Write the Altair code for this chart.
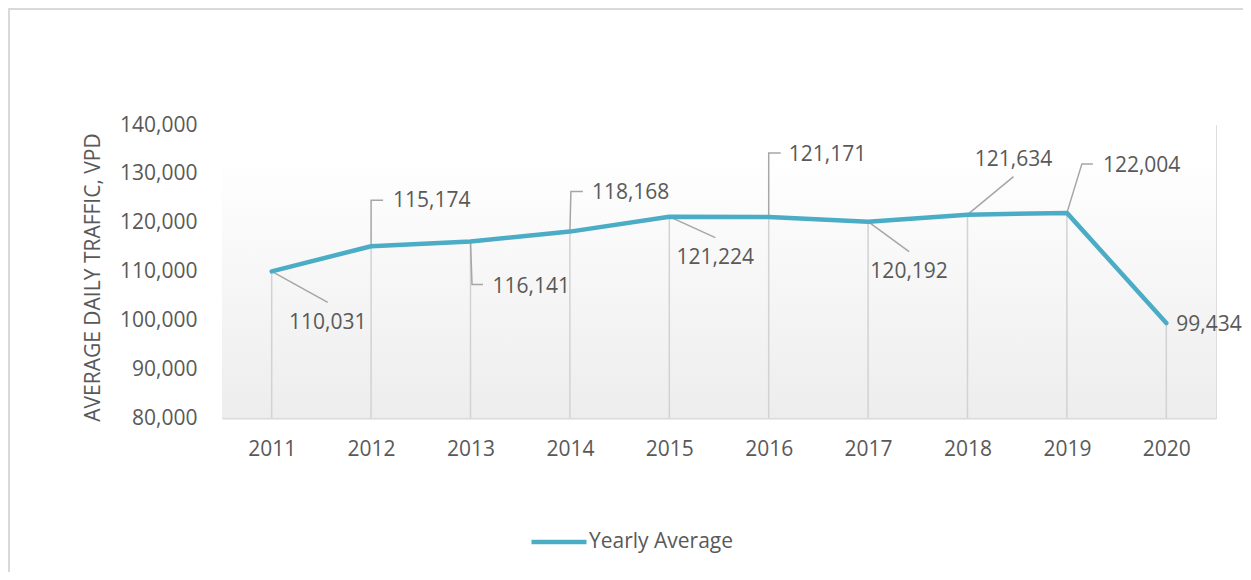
import altair as alt
import pandas as pd

# ---- data ----
years = [2011, 2012, 2013, 2014, 2015, 2016, 2017, 2018, 2019, 2020]
values = [110031, 115174, 116141, 118168, 121224, 121171, 120192, 121634, 122004, 99434]
series_name = "Yearly Average"

# ---- annotation layout (pixel offsets from each point) ----
label_dx = [56, 22, 22, 22, 46, 20, 41, 46, 36, 10]
label_dy = [52, -45, 45, -39, 41, -62, 50, -55, -47, 2]
label_align = ["center", "left", "left", "left", "center", "left", "center", "center", "left", "left"]
leader_paths = [
    [(0, 0), (56, 31)],
    [(0, 0), (0, -46), (12, -46)],
    [(0, 0), (1.5, 43), (12.5, 43)],
    [(0, 0), (1, -40), (13, -40)],
    [(0, 0), (46, 21)],
    [(0, 0), (0, -64), (12, -64)],
    [(0, 0), (41, 30)],
    [(0, 0), (46, -38)],
    [(0, 0), (15, -49), (26, -49)],
    [],
]

PLOT_W, PLOT_H = 994, 293
X_MIN, X_MAX = 2010.5, 2020.5
Y_MIN, Y_MAX = 80000, 140000
px_x = PLOT_W / (X_MAX - X_MIN)
px_y = PLOT_H / (Y_MAX - Y_MIN)

LINE_COLOR = "#4bacc6"
TEXT_COLOR = "#595959"
FONT = "Open Sans"
FS = 21

df = pd.DataFrame({"year": years, "value": values, "series": series_name})
df["base"] = Y_MIN

lab_rows = []
for i, (yr, v) in enumerate(zip(years, values)):
    lab_rows.append({
        "lx": yr + label_dx[i] / px_x,
        "ly": v - label_dy[i] / px_y,
        "text": f"{v:,}",
        "align": label_align[i],
    })
labels = pd.DataFrame(lab_rows)

lead_rows = []
for i, (yr, v) in enumerate(zip(years, values)):
    for k, (dx, dy) in enumerate(leader_paths[i]):
        lead_rows.append({"id": i, "k": k, "lx": yr + dx / px_x, "ly": v - dy / px_y})
leaders = pd.DataFrame(lead_rows)

xscale = alt.Scale(domain=[X_MIN, X_MAX], nice=False, zero=False)
yscale = alt.Scale(domain=[Y_MIN, Y_MAX], nice=False, zero=False)

bg = alt.Chart(pd.DataFrame({"a": [Y_MIN], "b": [Y_MAX]})).mark_rect(
    fill=alt.Gradient(
        gradient="linear", x1=0, x2=0, y1=0, y2=1,
        stops=[alt.GradientStop(color="#ffffff", offset=0),
               alt.GradientStop(color="#ffffff", offset=0.1),
               alt.GradientStop(color="#ededed", offset=1)],
    )
).encode(
    x=alt.value(0), x2=alt.value(PLOT_W),
    y=alt.Y("b:Q", scale=yscale), y2="a:Q",
)

drops = alt.Chart(df).mark_rule(color="#d2d2d2", strokeWidth=1.5).encode(
    x=alt.X("year:Q", scale=xscale),
    y=alt.Y("value:Q", scale=yscale),
    y2="base:Q",
)

leader_lines = alt.Chart(leaders).mark_line(color="#a6a6a6", strokeWidth=1.5).encode(
    x=alt.X("lx:Q", scale=xscale),
    y=alt.Y("ly:Q", scale=yscale),
    detail="id:N",
    order="k:Q",
)

line = alt.Chart(df).mark_line(strokeWidth=4.5, strokeJoin="round", strokeCap="round").encode(
    x=alt.X(
        "year:Q", scale=xscale,
        axis=alt.Axis(
            title=None, values=years, format="d", ticks=False, grid=False,
            domainColor="#d9d9d9", domainWidth=2, labelPadding=20,
            labelFont=FONT, labelFontSize=FS, labelColor=TEXT_COLOR,
        ),
    ),
    y=alt.Y(
        "value:Q", scale=yscale,
        axis=alt.Axis(
            title="AVERAGE DAILY TRAFFIC, VPD", values=list(range(80000, 140001, 10000)),
            format=",d", ticks=False, grid=False, domain=False, labelPadding=25,
            labelFont=FONT, labelFontSize=FS, labelColor=TEXT_COLOR,
            titleFont=FONT, titleFontSize=FS, titleColor=TEXT_COLOR, titleFontWeight="normal",
            titleX=-129, titleY=152, titleAngle=270, titleAlign="center", titleBaseline="middle",
        ),
    ),
    color=alt.Color(
        "series:N", scale=alt.Scale(range=[LINE_COLOR]),
        legend=alt.Legend(
            title=None, orient="none", legendX=307, legendY=387, padding=0,
            symbolType="stroke", symbolSize=3025, symbolStrokeWidth=4.5,
            symbolStrokeColor=LINE_COLOR, labelOffset=0,
            labelFont=FONT, labelFontSize=FS, labelColor=TEXT_COLOR,
        ),
    ),
)

txt_center = alt.Chart(labels).transform_filter("datum.align == 'center'").mark_text(
    align="center", baseline="middle", font=FONT, fontSize=FS, color=TEXT_COLOR
).encode(x=alt.X("lx:Q", scale=xscale), y=alt.Y("ly:Q", scale=yscale), text="text:N")

txt_left = alt.Chart(labels).transform_filter("datum.align == 'left'").mark_text(
    align="left", baseline="middle", font=FONT, fontSize=FS, color=TEXT_COLOR
).encode(x=alt.X("lx:Q", scale=xscale), y=alt.Y("ly:Q", scale=yscale), text="text:N")

frame = alt.Chart(pd.DataFrame({"d": [0]}))
border_left = frame.mark_rule(color="#d9d9d9", strokeWidth=2).encode(
    x=alt.value(-213), y=alt.value(-117), y2=alt.value(447)
)
border_top = frame.mark_rule(color="#d9d9d9", strokeWidth=2).encode(
    x=alt.value(-214), x2=alt.value(1030), y=alt.value(-116)
)

chart = alt.layer(
    bg, drops, leader_lines, line, txt_center, txt_left, border_left, border_top
).properties(
    width=PLOT_W, height=PLOT_H,
    autosize=alt.AutoSizeParams(type="none"),
    padding={"left": 214, "top": 117, "right": 27, "bottom": 154},
).configure_view(stroke=None).configure(background="#ffffff")

chart.save("out.html", embed_options={"renderer": "svg", "actions": False})
